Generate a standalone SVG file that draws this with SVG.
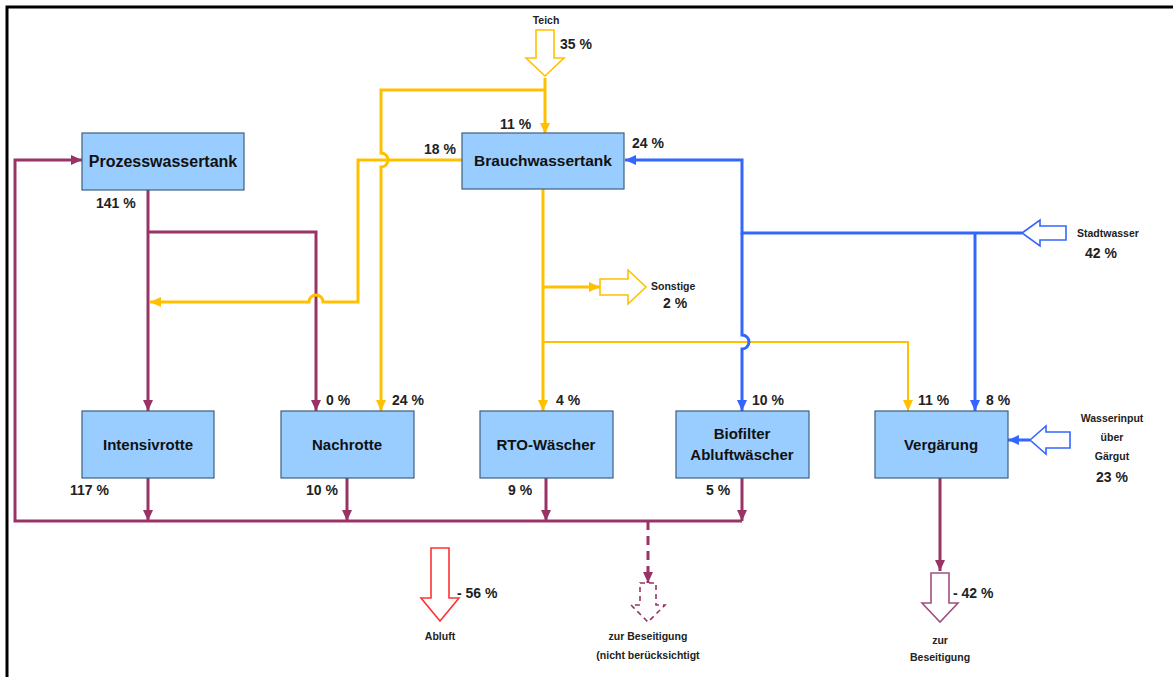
<svg xmlns="http://www.w3.org/2000/svg" width="1173" height="677" viewBox="0 0 1173 677">
<defs>
<style>
.box{fill:#99CCFF;stroke:#3F5F7F;stroke-width:1.2}
.bl{font-family:"Liberation Sans",Arial,sans-serif;font-weight:bold;font-size:15px;fill:#111;text-anchor:middle}
.pc{font-family:"Liberation Sans",Arial,sans-serif;font-weight:bold;font-size:14px;fill:#222}
.sm{font-family:"Liberation Sans",Arial,sans-serif;font-weight:bold;font-size:10.5px;fill:#222}
.mid{text-anchor:middle}
.pl{fill:none;stroke:#993366;stroke-width:3}
.yl{fill:none;stroke:#FFC000;stroke-width:3}
.thin{stroke-width:2}
.bu{fill:none;stroke:#3366FF;stroke-width:3}
.ho{fill:#fff;stroke-width:1.6}
</style>
<marker id="ap" markerUnits="userSpaceOnUse" markerWidth="12" markerHeight="10" refX="11" refY="5" orient="auto"><path d="M0,0 L11,5 L0,10 z" fill="#993366"/></marker>
<marker id="ay" markerUnits="userSpaceOnUse" markerWidth="12" markerHeight="10" refX="11" refY="5" orient="auto"><path d="M0,0 L11,5 L0,10 z" fill="#FFC000"/></marker>
<marker id="ab" markerUnits="userSpaceOnUse" markerWidth="12" markerHeight="10" refX="11" refY="5" orient="auto"><path d="M0,0 L11,5 L0,10 z" fill="#3366FF"/></marker>
</defs>
<rect width="1173" height="677" fill="#fff"/>
<path d="M7,677 V7 H1173" fill="none" stroke="#000" stroke-width="3"/>

<g id="connectors">
<path class="pl" d="M148,190 V411" marker-end="url(#ap)"/>
<path class="pl" d="M148,232 H316 V411" marker-end="url(#ap)"/>
<path class="pl" d="M148,478 V521" marker-end="url(#ap)"/>
<path class="pl" d="M347,478 V521" marker-end="url(#ap)"/>
<path class="pl" d="M546,478 V521" marker-end="url(#ap)"/>
<path class="pl" d="M742,478 V521" marker-end="url(#ap)"/>
<path class="pl" d="M742,521 H15 V160 H82" marker-end="url(#ap)"/>
<path class="pl" d="M648,521 V583" stroke-dasharray="9,6" marker-end="url(#ap)"/>
<path class="pl" d="M940,478 V571" marker-end="url(#ap)"/>
<path class="yl" d="M545,78 V134" marker-end="url(#ay)"/>
<path class="yl" d="M545,90 H381 V153 a7,7 0 0 1 0,14 V411" marker-end="url(#ay)"/>
<path class="yl" d="M462,160 H358 V302 H323 a7,7 0 0 0 -14,0 H150" marker-end="url(#ay)"/>
<path class="yl" d="M543,189 V411" marker-end="url(#ay)"/>
<path class="yl" d="M543,287 H600" marker-end="url(#ay)"/>
<path class="yl thin" d="M543,342 H908 V411" marker-end="url(#ay)"/>
<path class="bu" d="M1022,233 H742 V160 H625" marker-end="url(#ab)"/>
<path class="bu" d="M742,233 V335 a7,7 0 0 1 0,14 V411" marker-end="url(#ab)"/>
<path class="bu" d="M975,233 V411" marker-end="url(#ab)"/>
<path class="bu" d="M1030,440 H1008" marker-end="url(#ab)"/>
</g>

<g id="teich">
<polygon class="ho" stroke="#FFC000" points="536,30 554,30 554,58 564,58 545,76 526,58 536,58"/>
<text class="sm mid" x="546" y="24">Teich</text>
<text class="pc" x="560" y="49">35 %</text>
</g>

<g id="prozesswassertank">
<rect class="box" x="82" y="133" width="162" height="57"/>
<text class="bl" x="163" y="167" style="font-size:16px">Prozesswassertank</text>
<text class="pc" x="96" y="208">141 %</text>
</g>

<g id="brauchwassertank">
<rect class="box" x="462" y="133" width="162" height="56"/>
<text class="bl" x="543" y="166" style="font-size:15.5px">Brauchwassertank</text>
<text class="pc" x="500" y="129">11 %</text>
<text class="pc" x="424" y="154">18 %</text>
<text class="pc" x="632" y="148">24 %</text>
</g>

<g id="sonstige">
<polygon class="ho" stroke="#FFC000" points="600,279 628,279 628,270 646,287 628,304 628,295 600,295"/>
<text class="sm" x="651" y="290">Sonstige</text>
<text class="pc" x="663" y="308">2 %</text>
</g>

<g id="stadtwasser">
<polygon class="ho" stroke="#3366FF" points="1022,233 1040,220 1040,226 1066,226 1066,240 1040,240 1040,246"/>
<text class="sm" x="1077" y="237">Stadtwasser</text>
<text class="pc" x="1085" y="258">42 %</text>
</g>

<g id="intensivrotte">
<rect class="box" x="82" y="411" width="132" height="67"/>
<text class="bl" x="148" y="450">Intensivrotte</text>
<text class="pc" x="70" y="495">117 %</text>
</g>

<g id="nachrotte">
<rect class="box" x="281" y="411" width="133" height="67"/>
<text class="bl" x="347" y="450">Nachrotte</text>
<text class="pc" x="326" y="405">0 %</text>
<text class="pc" x="392" y="405">24 %</text>
<text class="pc" x="306" y="495">10 %</text>
</g>

<g id="rto">
<rect class="box" x="480" y="411" width="133" height="67"/>
<text class="bl" x="546" y="450">RTO-Wäscher</text>
<text class="pc" x="556" y="405">4 %</text>
<text class="pc" x="508" y="495">9 %</text>
</g>

<g id="biofilter">
<rect class="box" x="676" y="411" width="133" height="67"/>
<text class="bl" x="742" y="439">Biofilter</text>
<text class="bl" x="742" y="460">Abluftwäscher</text>
<text class="pc" x="752" y="405">10 %</text>
<text class="pc" x="706" y="495">5 %</text>
</g>

<g id="vergaerung">
<rect class="box" x="875" y="411" width="133" height="67"/>
<text class="bl" x="941" y="450">Vergärung</text>
<text class="pc" x="918" y="405">11 %</text>
<text class="pc" x="986" y="405">8 %</text>
</g>

<g id="wasserinput">
<polygon class="ho" stroke="#3366FF" points="1030,440 1046,426 1046,432 1070,432 1070,448 1046,448 1046,454"/>
<text class="sm mid" x="1112" y="422">Wasserinput</text>
<text class="sm mid" x="1112" y="441">über</text>
<text class="sm mid" x="1112" y="460">Gärgut</text>
<text class="pc mid" x="1112" y="482">23 %</text>
</g>

<g id="abluft">
<polygon class="ho" stroke="#FF3333" points="431,548 449,548 449,598 459,598 440,621 421,598 431,598"/>
<text class="pc" x="457" y="598">- 56 %</text>
<text class="sm mid" x="440" y="640">Abluft</text>
</g>

<g id="beseitigung-nb">
<polygon class="ho" stroke="#993366" stroke-dasharray="5,4" points="640,583 656,583 656,605 665,605 648,622 631,605 640,605"/>
<text class="sm mid" x="648" y="640">zur Beseitigung</text>
<text class="sm mid" x="648" y="659">(nicht berücksichtigt</text>
</g>

<g id="beseitigung">
<polygon class="ho" stroke="#A05080" points="931,573 949,573 949,603 958,603 940,622 922,603 931,603"/>
<text class="pc" x="953" y="598">- 42 %</text>
<text class="sm mid" x="940" y="644">zur</text>
<text class="sm mid" x="940" y="661">Beseitigung</text>
</g>
</svg>
